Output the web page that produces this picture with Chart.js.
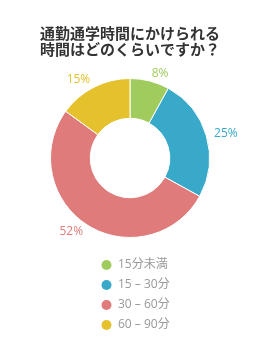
<!DOCTYPE html>
<html>
<head>
<meta charset="utf-8">
<script src="https://cdn.jsdelivr.net/npm/chart.js@4/dist/chart.umd.min.js"></script>
<style>
html,body{margin:0;padding:0;background:#fff;}
canvas{display:block;}
</style>
</head>
<body>
<canvas id="c" width="260" height="340"></canvas>
<script>
const titleLines = ['通勤通学時間にかけられる', '時間はどのくらいですか？'];
const categories = ['15分未満', '15 – 30分', '30 – 60分', '60 – 90分'];
const percentages = [8, 25, 52, 15];
const sliceColors = ['#a0cc5e', '#38a9c9', '#e07b7b', '#e6c12e'];

const FONT = "'Open Sans', 'Noto Sans CJK JP', sans-serif";

const pctLabels = {
  id: 'pctLabels',
  afterDatasetsDraw(chart) {
    const ctx = chart.ctx;
    const meta = chart.getDatasetMeta(0);
    const ds = chart.data.datasets[0];
    ctx.save();
    ctx.font = '12px ' + FONT;
    ctx.textBaseline = 'middle';
    meta.data.forEach((arc, i) => {
      const mid = (arc.startAngle + arc.endAngle) / 2;
      const r = arc.outerRadius + 8;
      const x = arc.x + Math.cos(mid) * r;
      const y = arc.y + Math.sin(mid) * r;
      ctx.textAlign = Math.cos(mid) >= 0 ? 'left' : 'right';
      ctx.fillStyle = ds.backgroundColor[i];
      ctx.fillText(ds.data[i] + '%', x, y);
    });
    ctx.restore();
  }
};

const sideLegend = {
  id: 'sideLegend',
  afterDraw(chart) {
    const ctx = chart.ctx;
    const ds = chart.data.datasets[0];
    ctx.save();
    ctx.font = '12px ' + FONT;
    ctx.textBaseline = 'middle';
    ctx.textAlign = 'left';
    chart.data.labels.forEach((lab, i) => {
      const y = 265 + i * 20;
      ctx.beginPath();
      ctx.arc(106.5, y, 5, 0, Math.PI * 2);
      ctx.fillStyle = ds.backgroundColor[i];
      ctx.fill();
      ctx.fillStyle = '#999999';
      ctx.fillText(lab, 118, y);
    });
    ctx.restore();
  }
};

new Chart(document.getElementById('c'), {
  type: 'doughnut',
  data: {
    labels: categories,
    datasets: [{
      data: percentages,
      backgroundColor: sliceColors,
      borderColor: '#ffffff',
      borderWidth: 1,
      hoverOffset: 0
    }]
  },
  options: {
    responsive: false,
    animation: false,
    cutout: '50%',
    layout: { padding: { top: 0, bottom: 102, left: 0, right: 0 } },
    plugins: {
      legend: { display: false },
      tooltip: { enabled: false },
      title: {
        display: true,
        text: titleLines,
        color: '#333333',
        font: { family: "'Noto Sans CJK JP', sans-serif", size: 15, weight: 'bold', lineHeight: 1.0667 },
        padding: { top: 25, bottom: 21 }
      }
    }
  },
  plugins: [pctLabels, sideLegend]
});
</script>
</body>
</html>
